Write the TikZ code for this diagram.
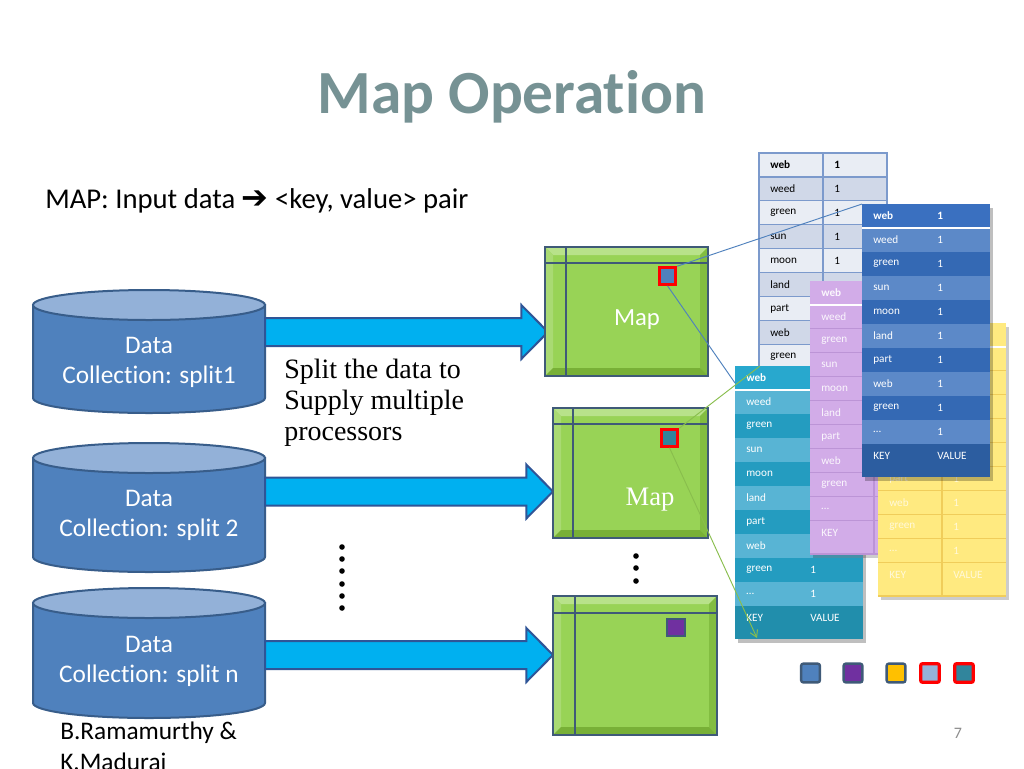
\documentclass[tikz,border=0pt]{standalone}
\usepackage{fontspec}
\setmainfont{Carlito}[Ligatures=NoCommon]
\newfontfamily\seriffont{Liberation Serif}
\newfontfamily\symfont{DejaVu Sans}
\usetikzlibrary{calc,arrows.meta}

% colours
\definecolor{titlegray}{RGB}{118,146,148}
\definecolor{pagegray}{RGB}{140,140,140}
\definecolor{cylblue}{RGB}{79,129,189}
\definecolor{cyledge}{RGB}{56,93,138}
\definecolor{cyltopc}{RGB}{147,177,216}
\definecolor{arrowcyan}{RGB}{0,176,240}
\definecolor{arrowedge}{RGB}{47,85,151}
\definecolor{mapgreen}{RGB}{152,211,86}
\definecolor{bevtop}{RGB}{184,226,138}
\definecolor{bevleft}{RGB}{169,218,115}
\definecolor{bevright}{RGB}{130,189,65}
\definecolor{bevbot}{RGB}{120,176,55}
\definecolor{mapedge}{RGB}{63,90,120}
\definecolor{sqblue}{RGB}{79,129,189}
\definecolor{sqteal}{RGB}{49,133,156}
\definecolor{sqpurple}{RGB}{112,48,160}
\definecolor{sqgold}{RGB}{255,192,0}
\definecolor{sqpale}{RGB}{149,179,215}
\definecolor{tabAlight}{RGB}{233,237,244}
\definecolor{tabAdark}{RGB}{208,216,232}
\definecolor{tabAline}{RGB}{124,154,204}
\definecolor{tabBhead}{RGB}{58,112,192}
\definecolor{tabBlight}{RGB}{92,137,200}
\definecolor{tabBdark}{RGB}{52,105,180}
\definecolor{tabBkey}{RGB}{44,93,160}
\definecolor{tabChead}{RGB}{40,168,206}
\definecolor{tabClight}{RGB}{88,180,212}
\definecolor{tabCdark}{RGB}{36,156,192}
\definecolor{tabCkey}{RGB}{33,142,172}
\definecolor{tabDfill}{RGB}{210,172,232}
\definecolor{tabDline}{RGB}{188,148,214}
\definecolor{tabYfill}{RGB}{255,234,128}
\definecolor{tabYline}{RGB}{240,205,90}

\newcommand{\tabfont}{\fontsize{8.4}{10}\selectfont}

\tikzset{
  cylbody/.style={fill=cylblue, draw=cyledge, line width=1.5pt},
  cyltop/.style={fill=cyltopc, draw=cyledge, line width=1.5pt},
  cyltext/.style={text=white, font=\fontsize{19}{23}\selectfont, align=center},
  bigarrow/.style={fill=arrowcyan, draw=arrowedge, line width=1.5pt, line join=miter},
  mapline/.style={draw=mapedge, line width=1.6pt},
  redsq/.style={draw=red, line width=2.2pt, minimum size=12.5pt},
  bluesq/.style={draw=mapedge, line width=1.5pt, minimum size=13pt},
  legsq/.style={line width=1.8pt, minimum size=14pt, rounded corners=1.5pt},
  zoomblue/.style={draw=sqblue, line width=0.7pt},
  zoomgreen/.style={draw=mapgreen!90!black, line width=0.7pt},
  % key/value tables
  A head/.style={fill=tabAlight}, A odd/.style={fill=tabAdark},
  A even/.style={fill=tabAlight}, A key/.style={fill=tabAlight},
  A rule/.style={draw=tabAline, line width=0.9pt}, A sep/.style={draw=tabAline, line width=0.9pt},
  A frame/.style={draw=tabAline, line width=0.9pt}, A shadow/.style={fill=none},
  A text/.style={text=black, font=\tabfont},
  B head/.style={fill=tabBhead}, B odd/.style={fill=tabBlight},
  B even/.style={fill=tabBdark}, B key/.style={fill=tabBkey},
  B rule/.style={draw=none}, B sep/.style={draw=white, line width=2.2pt},
  B frame/.style={draw=none}, B shadow/.style={fill=black, opacity=0.25},
  B text/.style={text=white, font=\tabfont},
  C head/.style={fill=tabChead}, C odd/.style={fill=tabClight},
  C even/.style={fill=tabCdark}, C key/.style={fill=tabCkey},
  C rule/.style={draw=none}, C sep/.style={draw=white, line width=2.2pt},
  C frame/.style={draw=none}, C shadow/.style={fill=black, opacity=0.25},
  C text/.style={text=white, font=\tabfont},
  D head/.style={fill=tabDfill}, D odd/.style={fill=tabDfill},
  D even/.style={fill=tabDfill}, D key/.style={fill=tabDfill},
  D rule/.style={draw=tabDline, line width=0.8pt}, D sep/.style={draw=white, line width=2.2pt},
  D frame/.style={draw=none}, D shadow/.style={fill=black, opacity=0.2},
  D text/.style={text=white, text opacity=0.9, font=\tabfont},
  Y head/.style={fill=tabYfill}, Y odd/.style={fill=tabYfill},
  Y even/.style={fill=tabYfill}, Y key/.style={fill=tabYfill},
  Y rule/.style={draw=tabYline, line width=0.8pt}, Y sep/.style={draw=white, line width=2.2pt},
  Y frame/.style={draw=none}, Y shadow/.style={fill=black, opacity=0.2},
  Y text/.style={text=white, text opacity=0.7, font=\tabfont},
}

% data cylinder: centre x, top ellipse y, bottom ellipse y
\newcommand{\datacyl}[3]{%
  \draw[cylbody] (#1-116,#2) -- (#1-116,#3)
    arc[start angle=180, end angle=360, x radius=87pt, y radius=11.25pt] -- (#1+116,#2) -- cycle;
  \draw[cyltop] (#1,#2) ellipse[x radius=87pt, y radius=11.25pt];
}

% bevelled map box: x1, y1, x2, y2, rule y, rule x
\newcommand{\mapbox}[6]{%
  \fill[mapgreen] (#1,#2) rectangle (#3,#4);
  \fill[bevtop] (#1,#2) -- (#3,#2) -- (#3-8,#2+8) -- (#1+8,#2+8) -- cycle;
  \fill[bevleft] (#1,#2) -- (#1+8,#2+8) -- (#1+8,#4-8) -- (#1,#4) -- cycle;
  \fill[bevright] (#3,#2) -- (#3-8,#2+8) -- (#3-8,#4-8) -- (#3,#4) -- cycle;
  \fill[bevbot] (#1,#4) -- (#1+8,#4-8) -- (#3-8,#4-8) -- (#3,#4) -- cycle;
  \draw[mapline] (#1,#5) -- (#3,#5);
  \draw[mapline] (#6,#2) -- (#6,#4);
  \draw[mapline] (#1,#2) rectangle (#3,#4);
}

% block arrow between two coordinates
\newcommand{\blockarrow}[2]{%
  \draw[bigarrow] let \p1=(#1), \p2=(#2) in
    (\x1,\y1+10.5pt) -- (\x2-20pt,\y1+10.5pt) -- (\x2-20pt,\y1+20.25pt) -- (\x2,\y1)
    -- (\x2-20pt,\y1-20.25pt) -- (\x2-20pt,\y1-10.5pt) -- (\x1,\y1-10.5pt) -- cycle;
}

% key/value table: left x, top y, name, first/last row with key shown, first/last row with value shown
\newcommand{\kvtable}[7]{%
  \fill[#3 shadow] (#1+3,#2+4) rectangle (#1+131,#2+277);
  \foreach \k [count=\i from 0] in {web,weed,green,sun,moon,land,part,web,green,…,KEY}{
    \ifnum\i=0 \def\rowstyle{#3 head}\else
      \ifnum\i=10 \def\rowstyle{#3 key}\else
        \ifodd\i \def\rowstyle{#3 odd}\else \def\rowstyle{#3 even}\fi
      \fi
    \fi
    \pgfmathsetmacro{\ya}{#2+24*\i}
    \pgfmathsetmacro{\yb}{#2+24*\i+24+9*(\i==10)}
    \fill[\rowstyle] (#1,\ya) rectangle (#1+128,\yb);
    \draw[#3 rule] (#1,\yb) -- (#1+128,\yb);
    \ifnum\i=10 \def\val{VALUE}\else \def\val{1}\fi
    \ifnum\i=0 \def\wt{\bfseries}\else \def\wt{}\fi
    \ifnum\i<#4 \else\ifnum\i>#5 \else
      \node[#3 text, anchor=west] (#3 k\i) at (#1+11,\ya+12) {\wt\k};
    \fi\fi
    \ifnum\i<#6 \else\ifnum\i>#7 \else
      \node[#3 text, anchor=west] (#3 v\i) at (#1+75,\ya+12) {\wt\val};
    \fi\fi
  }
  \draw[#3 sep] (#1,#2+24) -- (#1+128,#2+24);
  \draw[#3 rule] (#1+64,#2) -- (#1+64,#2+273);
  \draw[#3 frame] (#1,#2) rectangle (#1+128,#2+273);
  \coordinate (#3 nw) at (#1,#2);
}

\begin{document}
\begin{tikzpicture}[x=0.75pt, y=-0.75pt, every node/.append style={inner sep=0pt}]
  \fill[white] (0,0) rectangle (1024,768);
  \useasboundingbox (0,0) rectangle (1024,768);

  % title and heading
  \node[font=\fontsize{46}{50}\selectfont\bfseries, text=titlegray] (title) at (512,97) {Map Operation};
  \node[anchor=west, font=\fontsize{21.5}{25}\selectfont] (maphead) at (45,201)
    {MAP: Input data {\symfont\fontsize{24}{25}\selectfont ➔} <key, value> pair};

  % data splits
  \datacyl{149}{305}{398}
  \datacyl{149}{458}{557}
  \datacyl{149}{603}{703}
  \node[cyltext] (data1) at (149,362.5) {Data\\Collection: split1};
  \node[cyltext] (data2) at (149,515.5) {Data\\Collection: split 2};
  \node[cyltext] (data3) at (149,661.5) {Data\\Collection: split n};

  % arrows to the mappers
  \coordinate (cyl1e) at (265,332);
  \coordinate (cyl2e) at (265,491.5);
  \coordinate (cyl3e) at (265,655);
  \coordinate (map1w) at (548,332);
  \coordinate (map2w) at (553,491.5);
  \coordinate (map3w) at (553,655);
  \blockarrow{cyl1e}{map1w}
  \blockarrow{cyl2e}{map2w}
  \blockarrow{cyl3e}{map3w}

  \node[anchor=west, align=left, font=\seriffont\fontsize{21}{23.25}\selectfont] (split) at (284,403)
    {Split the data to\\Supply multiple\\processors};

  % mappers
  \mapbox{545}{247}{708}{376}{263}{566}
  \mapbox{553}{408}{708}{538}{424}{573}
  \mapbox{553}{596}{717}{735}{613}{575}
  \node[font=\fontsize{18.5}{22}\selectfont, text=white] (map1txt) at (637,320) {Map};
  \node[font=\seriffont\fontsize{20}{24}\selectfont, text=white] (map2txt) at (650,500) {Map};
  \node[redsq, fill=sqblue] (sq1) at (667.5,276) {};
  \node[redsq, fill=sqteal] (sq2) at (669.5,438) {};
  \node[bluesq, fill=sqpurple] (sq3) at (676,627.5) {};

  % dots
  \foreach \y in {547,559,571,584,596,608}
    \fill (342,\y) circle[radius=2.1pt];
  \foreach \y in {556,568,581}
    \fill (636,\y) circle[radius=2.1pt];

  % output tables
  \kvtable{759}{153}{A}{0}{8}{0}{4}
  \kvtable{735}{366}{C}{0}{10}{8}{10}
  \kvtable{810}{281}{D}{0}{10}{11}{11}
  \kvtable{878}{323}{Y}{6}{10}{6}{10}
  \kvtable{862}{204}{B}{0}{10}{0}{10}

  % zoom lines
  \coordinate (Cedge) at (735,383);
  \coordinate (Acut) at (760,366);
  \coordinate (Cfoot) at (757,638);
  \draw[zoomblue] (sq1.north east) -- (B nw);
  \draw[zoomblue] (sq1.south) -- (Cedge);
  \draw[zoomgreen] (sq2.north east) -- (Acut);
  \draw[zoomgreen, -{Straight Barb[length=5pt, width=6pt]}] (sq2.south) -- (Cfoot);

  % legend squares
  \node[legsq, draw=mapedge, fill=sqblue] (leg1) at (810.5,673) {};
  \node[legsq, draw=mapedge, fill=sqpurple] (leg2) at (853,673) {};
  \node[legsq, draw=mapedge, fill=sqgold] (leg3) at (896,673) {};
  \node[legsq, draw=red, line width=2.4pt, fill=sqpale] (leg4) at (930,673) {};
  \node[legsq, draw=red, line width=2.4pt, fill=sqteal] (leg5) at (964,673) {};

  % footer
  \node[anchor=west, font=\fontsize{19}{22}\selectfont] (auth1) at (60,733) {B.Ramamurthy \&};
  \node[anchor=west, font=\fontsize{19}{22}\selectfont] (auth2) at (60,762) {K.Madurai};
  \node[text=pagegray, font=\fontsize{12}{14}\selectfont] (pnum) at (958,733) {7};
\end{tikzpicture}
\end{document}
